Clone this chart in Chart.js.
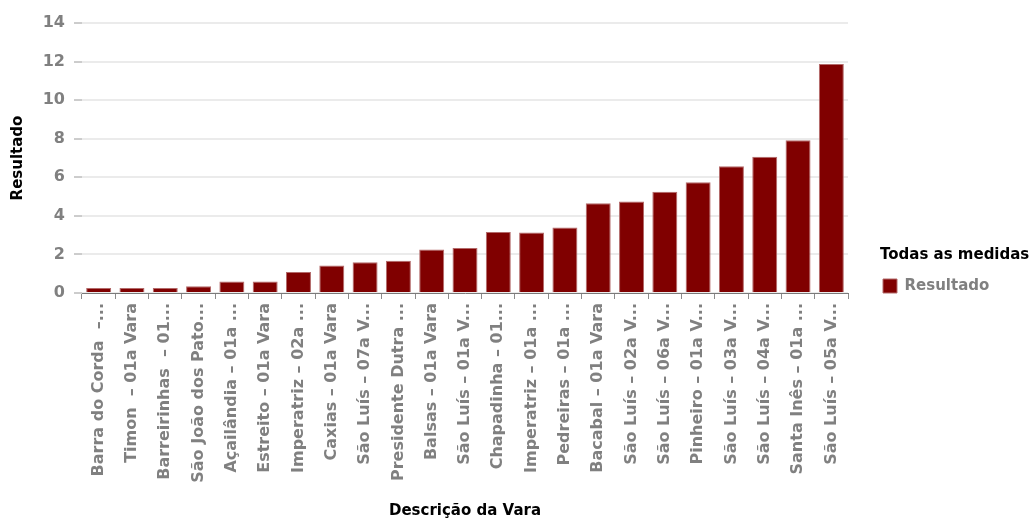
<!DOCTYPE html>
<html lang="pt-BR">
<head>
<meta charset="utf-8">
<title>Resultado por Vara</title>
<script src="https://cdn.jsdelivr.net/npm/chart.js@4/dist/chart.umd.min.js"></script>
<style>
  html, body { margin: 0; padding: 0; background: #ffffff; }
  #wrap { width: 1036px; height: 521px; position: relative; }
</style>
</head>
<body>
<div id="wrap"><canvas id="grafico" width="1036" height="521"></canvas></div>
<script>
// Varas (rótulos truncados como aparecem no eixo)
const varas = [
  'Barra do Corda  –...',
  'Timon  – 01a Vara',
  'Barreirinhas  – 01...',
  'São João dos Pato...',
  'Açailândia – 01a ...',
  'Estreito – 01a Vara',
  'Imperatriz – 02a ...',
  'Caxias – 01a Vara',
  'São Luís – 07a V...',
  'Presidente Dutra ...',
  'Balsas – 01a Vara',
  'São Luís – 01a V...',
  'Chapadinha – 01...',
  'Imperatriz – 01a ...',
  'Pedreiras – 01a ...',
  'Bacabal – 01a Vara',
  'São Luís – 02a V...',
  'São Luís – 06a V...',
  'Pinheiro – 01a V...',
  'São Luís – 03a V...',
  'São Luís – 04a V...',
  'Santa Inês – 01a ...',
  'São Luís – 05a V...'
];

// Resultado de cada vara
const resultado = [
  0.26, 0.26, 0.26, 0.35, 0.60, 0.60, 1.09, 1.43, 1.59, 1.67, 2.26, 2.33,
  3.16, 3.14, 3.40, 4.65, 4.75, 5.25, 5.74, 6.57, 7.07, 7.92, 11.87
];

// Escala do eixo Y
const yMin = 0;
const yMax = 14;
const yPasso = 2;

const FONTE = '"DejaVu Sans", Verdana, sans-serif';
const CINZA = '#808080';

// Garante que a caixa da legenda seja larga o bastante para o título
const larguraLegenda = {
  id: 'larguraLegenda',
  afterInit(chart) {
    const legenda = chart.legend;
    if (!legenda) return;
    const ajustar = legenda.fit.bind(legenda);
    legenda.fit = function () {
      ajustar();
      this.width = Math.max(this.width, 156);
    };
  }
};

new Chart(document.getElementById('grafico'), {
  type: 'bar',
  data: {
    labels: varas,
    datasets: [{
      label: 'Resultado',
      data: resultado,
      yAxisID: 'y',
      backgroundColor: '#800000',
      borderColor: '#b36a6a',
      borderWidth: 1,
      borderSkipped: 'bottom',
      barPercentage: 0.75,
      categoryPercentage: 1.0
    }]
  },
  plugins: [larguraLegenda],
  options: {
    responsive: false,
    animation: false,
    devicePixelRatio: 1,
    layout: { padding: { top: 23, right: 0, bottom: 0, left: 0 } },
    plugins: {
      tooltip: { enabled: false },
      legend: {
        position: 'right',
        align: 'center',
        title: {
          display: true,
          text: 'Todas as medidas',
          position: 'start',
          color: '#000000',
          padding: { top: 0, bottom: 10 },
          font: { family: FONTE, size: 15, weight: 'bold' }
        },
        labels: {
          boxWidth: 14,
          boxHeight: 14,
          padding: 3,
          color: CINZA,
          font: { family: FONTE, size: 15, weight: 'bold' }
        }
      }
    },
    scales: {
      x: {
        offset: true,
        grid: {
          display: true,
          offset: true,
          drawOnChartArea: false,
          drawTicks: true,
          tickLength: 6,
          color: '#8c8c8c'
        },
        border: { display: true, color: '#7a7a7a', width: 1 },
        ticks: {
          autoSkip: false,
          minRotation: 90,
          maxRotation: 90,
          padding: 4,
          color: CINZA,
          font: { family: FONTE, size: 16, weight: 'bold' }
        },
        title: {
          display: true,
          text: 'Descrição da Vara',
          color: '#000000',
          padding: { top: 0, bottom: 1 },
          font: { family: FONTE, size: 15, weight: 'bold' }
        },
        afterFit(scale) { scale.height = 228; }
      },
      y: {
        position: 'left',
        min: yMin,
        max: yMax,
        grid: {
          color: '#ebebeb',
          lineWidth: 2,
          drawTicks: true,
          tickLength: 8,
          tickColor: '#9a9a9a',
          tickWidth: 1
        },
        border: { display: false },
        ticks: {
          stepSize: yPasso,
          padding: 9,
          color: CINZA,
          font: { family: FONTE, size: 16, weight: 'bold' }
        },
        title: {
          display: true,
          text: 'Resultado',
          color: '#000000',
          padding: { top: 9, bottom: 0 },
          font: { family: FONTE, size: 15, weight: 'bold' }
        },
        afterFit(scale) { scale.width = 82; }
      },
      // faixa vazia entre a área do gráfico e a legenda
      espaco: {
        type: 'linear',
        position: 'right',
        display: true,
        grid: { display: false, drawTicks: false },
        border: { display: false },
        ticks: { display: false },
        afterFit(scale) { scale.width = 32; }
      }
    }
  }
});
</script>
</body>
</html>
